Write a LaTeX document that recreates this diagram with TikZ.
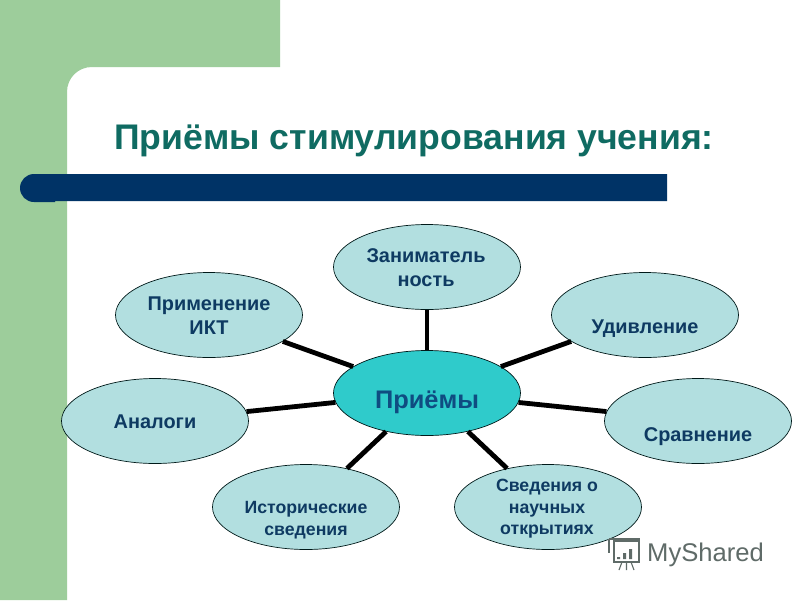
\documentclass[tikz,border=0pt]{standalone}
\usepackage{fontspec}
\setmainfont{Liberation Sans}
\usetikzlibrary{shapes.geometric}
\definecolor{bandgreen}{HTML}{9DCD9B}
\definecolor{barblue}{HTML}{003366}
\definecolor{titlegreen}{HTML}{0F6B62}
\definecolor{petal}{HTML}{B2DFE0}
\definecolor{hub}{HTML}{2FCBCB}
\definecolor{inkblue}{HTML}{0E3A62}
\definecolor{hubink}{HTML}{0F4C81}
\definecolor{markgray}{HTML}{5F6B68}
\tikzset{
  x=1pt,y=-1pt,
  petalnode/.style={ellipse,draw=black!80!teal,line width=0.7pt,fill=petal,minimum width=187pt,minimum height=85pt,inner sep=0pt},
  hubnode/.style={petalnode,fill=hub},
  spoke/.style={line width=4.8pt,black},
  lab/.style={font=\bfseries\fontsize{19.9}{24}\selectfont,text=inkblue,align=center,inner sep=0pt,anchor=base},
  labsmall/.style={lab,font=\bfseries\fontsize{17.7}{21.5}\selectfont},
}
\begin{document}
\begin{tikzpicture}
\useasboundingbox (0,0) rectangle (800,600);
\fill[white] (0,0) rectangle (800,600);
\fill[bandgreen] (0,0) -- (280,0) -- (280,67) -- (92,67) .. controls (78,67) and (67,78) .. (67,92) -- (67,600) -- (0,600) -- cycle;
\fill[barblue] (34,174) -- (667,174) -- (667,201) -- (55,201) -- (55,202) -- (34,202) arc[start angle=270,end angle=90,radius=14pt] -- cycle;
\node[inner sep=0pt,anchor=base,text=titlegreen,font=\bfseries\fontsize{35.6}{40}\selectfont] (title) at (414,149) {Приёмы стимулирования учения:};

\node[hubnode] (hubn) at (427,393) {};
\node[petalnode] (p1) at (427,267) {};
\node[petalnode] (p2) at (645,315) {};
\node[petalnode] (p3) at (698,421) {};
\node[petalnode] (p4) at (548,507) {};
\node[petalnode] (p5) at (306,507) {};
\node[petalnode] (p6) at (155,421) {};
\node[petalnode] (p7) at (209,315) {};
\foreach \k in {1,...,7} \draw[spoke] (hubn) -- (p\k);

\node[lab,font=\bfseries\fontsize{25.4}{28}\selectfont,text=hubink] (t0) at (427,408) {Приёмы};
\node[lab,anchor=center] (t1) at (426,268) {Заниматель\\ность};
\node[lab] (t2) at (645,333) {Удивление};
\node[lab] (t3) at (698,441) {Сравнение};
\node[labsmall,anchor=center] (t4) at (547,509) {Сведения о\\научных\\открытиях};
\node[labsmall,anchor=center] (t5) at (306,520) {Исторические\\сведения};
\node[lab] (t6) at (155,428) {Аналоги};
\node[lab,anchor=center] (t7) at (209,316) {Применение\\ИКТ};

\begin{scope}[markgray,line width=1.6pt]
  \draw[fill=white] (614,541) rectangle (639,562);
  \draw (609,539) -- (640,539) (609,539) -- (609,553);
  \fill (617,557) rectangle (620,559) (623,553) rectangle (626,559) (629,549) rectangle (632,559);
  \draw[line width=1.1pt] (622,562) -- (619,570) (626.5,562) -- (626.5,570) (631,562) -- (634,570);
\end{scope}
\node[inner sep=0pt,text=markgray,font=\fontsize{25.6}{28}\selectfont,anchor=west] (mark) at (647,555) {MyShared};
\end{tikzpicture}
\end{document}
